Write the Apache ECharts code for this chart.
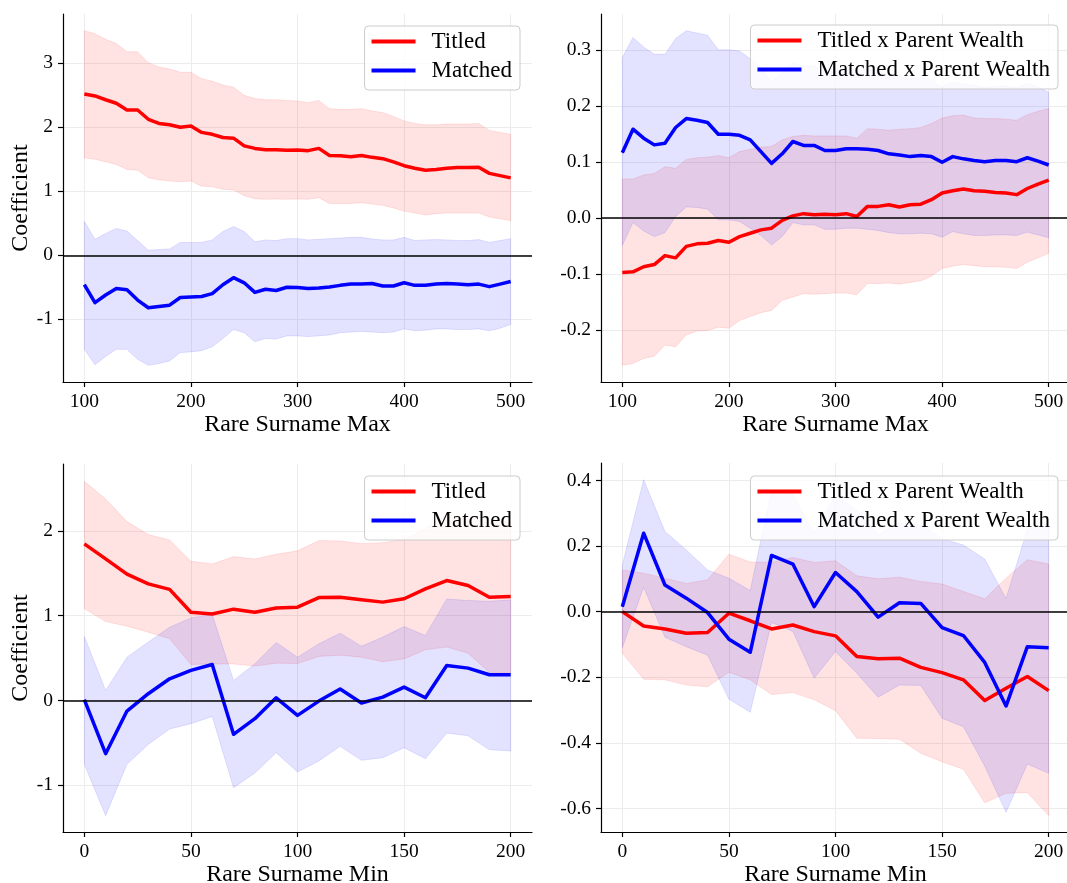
<!DOCTYPE html>
<html>
<head>
<meta charset="utf-8">
<script src="https://cdn.jsdelivr.net/npm/echarts@6/dist/echarts.min.js"></script>
<style>
  html, body { margin: 0; padding: 0; background: #ffffff; }
  #chart { width: 1067px; height: 883px; }
</style>
</head>
<body>
<div id="chart"></div>
<script>
// ---- x positions ----
const rareMax = [100,110,120,130,140,150,160,170,180,190,200,210,220,230,240,250,260,270,280,290,
                 300,310,320,330,340,350,360,370,380,390,400,410,420,430,440,450,460,470,480,490,500];
const rareMin = [0,10,20,30,40,50,60,70,80,90,100,110,120,130,140,150,160,170,180,190,200];

// ---- tick labels ----
const maxTicks = [100, 200, 300, 400, 500];
const minTicks = [0, 50, 100, 150, 200];
const coefTicksA = [-1, 0, 1, 2, 3];
const wealthTicksA = [-0.2, -0.1, 0.0, 0.1, 0.2, 0.3];
const coefTicksB = [-1, 0, 1, 2];
const wealthTicksB = [-0.6, -0.4, -0.2, 0.0, 0.2, 0.4];

// ---- series names ----
const mainNames = ['Titled', 'Matched'];
const wealthNames = ['Titled x Parent Wealth', 'Matched x Parent Wealth'];

// ---- Rare Surname Max: main coefficients ----
const titledMax   = [2.52,2.49,2.43,2.375,2.27,2.27,2.125,2.06,2.04,2.00,2.02,1.92,1.89,1.84,1.83,1.71,1.67,1.65,1.65,1.64,
                     1.645,1.635,1.67,1.56,1.555,1.54,1.56,1.53,1.51,1.46,1.40,1.36,1.33,1.34,1.36,1.37,1.37,1.375,1.28,1.245,1.21];
const titledMaxHi = [3.51,3.46,3.375,3.31,3.18,3.18,3.01,2.94,2.91,2.86,2.86,2.76,2.72,2.66,2.625,2.50,2.45,2.43,2.43,2.42,
                     2.41,2.385,2.42,2.29,2.28,2.28,2.29,2.255,2.23,2.17,2.10,2.06,2.04,2.04,2.05,2.05,2.05,2.06,1.95,1.92,1.89];
const titledMaxLo = [1.52,1.50,1.46,1.42,1.34,1.33,1.21,1.18,1.16,1.15,1.16,1.08,1.07,1.03,1.02,0.93,0.885,0.875,0.88,0.875,
                     0.88,0.875,0.90,0.81,0.81,0.81,0.82,0.80,0.78,0.74,0.69,0.66,0.63,0.65,0.66,0.66,0.66,0.66,0.60,0.57,0.54];
const matchedMax   = [-0.46,-0.74,-0.62,-0.52,-0.54,-0.70,-0.82,-0.80,-0.78,-0.66,-0.65,-0.645,-0.60,-0.46,-0.35,-0.43,-0.58,-0.53,-0.55,-0.50,
                      -0.505,-0.52,-0.51,-0.495,-0.47,-0.45,-0.45,-0.44,-0.48,-0.48,-0.43,-0.47,-0.47,-0.45,-0.44,-0.45,-0.46,-0.45,-0.49,-0.45,-0.41];
const matchedMaxHi = [0.53,0.25,0.34,0.42,0.38,0.23,0.08,0.09,0.10,0.20,0.20,0.20,0.24,0.37,0.45,0.37,0.21,0.24,0.23,0.26,
                      0.26,0.24,0.25,0.26,0.27,0.28,0.28,0.255,0.24,0.24,0.28,0.23,0.24,0.245,0.24,0.23,0.23,0.245,0.20,0.23,0.26];
const matchedMaxLo = [-1.47,-1.71,-1.58,-1.47,-1.47,-1.625,-1.72,-1.69,-1.65,-1.52,-1.51,-1.49,-1.43,-1.30,-1.16,-1.21,-1.35,-1.30,-1.31,-1.26,
                      -1.26,-1.27,-1.26,-1.245,-1.21,-1.20,-1.19,-1.20,-1.21,-1.20,-1.15,-1.18,-1.17,-1.15,-1.15,-1.16,-1.16,-1.15,-1.18,-1.14,-1.08];

// ---- Rare Surname Max: parent-wealth interactions ----
const titledWealthMax   = [-0.097,-0.096,-0.087,-0.083,-0.067,-0.071,-0.0505,-0.046,-0.045,-0.040,-0.043,-0.033,-0.027,-0.021,-0.018,-0.004,0.004,0.008,0.006,0.007,
                           0.006,0.008,0.003,0.021,0.021,0.024,0.020,0.024,0.025,0.033,0.045,0.049,0.052,0.049,0.048,0.046,0.045,0.042,0.053,0.061,0.068];
const titledWealthMaxHi = [0.070,0.070,0.077,0.080,0.092,0.089,0.105,0.108,0.109,0.112,0.108,0.119,0.123,0.127,0.128,0.140,0.146,0.148,0.147,0.147,
                           0.147,0.147,0.143,0.160,0.159,0.157,0.159,0.160,0.162,0.169,0.179,0.183,0.184,0.179,0.178,0.178,0.177,0.175,0.185,0.191,0.196];
const titledWealthMaxLo = [-0.263,-0.260,-0.251,-0.247,-0.227,-0.230,-0.209,-0.202,-0.201,-0.195,-0.197,-0.183,-0.176,-0.169,-0.165,-0.147,-0.141,-0.135,-0.136,-0.135,
                           -0.134,-0.134,-0.137,-0.117,-0.117,-0.116,-0.118,-0.115,-0.112,-0.104,-0.090,-0.086,-0.083,-0.085,-0.087,-0.087,-0.088,-0.090,-0.079,-0.071,-0.063];
const matchedWealthMax   = [0.117,0.159,0.143,0.131,0.134,0.162,0.178,0.175,0.171,0.150,0.150,0.148,0.140,0.119,0.098,0.115,0.137,0.130,0.130,0.121,
                            0.121,0.124,0.124,0.123,0.121,0.115,0.113,0.110,0.112,0.110,0.100,0.110,0.106,0.103,0.101,0.103,0.103,0.101,0.108,0.102,0.095];
const matchedWealthMaxHi = [0.287,0.323,0.306,0.293,0.293,0.321,0.335,0.331,0.327,0.301,0.301,0.299,0.285,0.269,0.244,0.261,0.277,0.272,0.272,0.262,
                            0.262,0.266,0.266,0.266,0.264,0.256,0.254,0.248,0.251,0.248,0.234,0.244,0.240,0.237,0.233,0.236,0.236,0.233,0.241,0.234,0.225];
const matchedWealthMaxLo = [-0.049,-0.008,-0.023,-0.033,-0.026,0.003,0.020,0.019,0.016,-0.003,-0.003,-0.006,-0.018,-0.031,-0.048,-0.033,-0.008,-0.012,-0.012,-0.020,
                            -0.020,-0.018,-0.018,-0.020,-0.022,-0.026,-0.028,-0.028,-0.027,-0.028,-0.034,-0.024,-0.028,-0.031,-0.031,-0.030,-0.030,-0.031,-0.025,-0.030,-0.035];

// ---- Rare Surname Min: main coefficients ----
const titledMin   = [1.847,1.67,1.49,1.375,1.31,1.04,1.02,1.077,1.04,1.09,1.10,1.214,1.218,1.187,1.16,1.20,1.316,1.415,1.356,1.218,1.226];
const titledMinHi = [2.585,2.377,2.11,1.957,1.894,1.642,1.611,1.697,1.67,1.725,1.765,1.886,1.882,1.85,1.862,1.90,2.03,2.20,2.154,2.10,2.12];
const titledMinLo = [1.084,0.93,0.876,0.805,0.727,0.424,0.43,0.43,0.405,0.44,0.435,0.519,0.534,0.51,0.456,0.49,0.597,0.629,0.558,0.33,0.33];
const matchedMin   = [0.008,-0.629,-0.126,0.079,0.255,0.354,0.424,-0.40,-0.216,0.031,-0.177,-0.008,0.134,-0.031,0.039,0.157,0.031,0.413,0.381,0.303,0.303];
const matchedMinHi = [0.754,0.118,0.51,0.688,0.864,0.974,1.014,0.236,0.432,0.684,0.51,0.668,0.794,0.64,0.747,0.872,0.766,1.198,1.179,1.17,1.187];
const matchedMinLo = [-0.754,-1.36,-0.754,-0.519,-0.338,-0.275,-0.189,-1.03,-0.857,-0.617,-0.845,-0.715,-0.542,-0.707,-0.676,-0.558,-0.688,-0.385,-0.417,-0.582,-0.597];

// ---- Rare Surname Min: parent-wealth interactions ----
const titledWealthMin   = [0.0,-0.044,-0.053,-0.066,-0.064,-0.005,-0.028,-0.053,-0.041,-0.061,-0.074,-0.137,-0.144,-0.142,-0.170,-0.186,-0.208,-0.271,-0.234,-0.198,-0.241];
const titledWealthMinHi = [0.127,0.117,0.102,0.086,0.097,0.175,0.151,0.150,0.165,0.150,0.155,0.109,0.100,0.105,0.092,0.084,0.061,0.039,0.102,0.158,0.145];
const titledWealthMinLo = [-0.127,-0.206,-0.208,-0.224,-0.229,-0.185,-0.208,-0.253,-0.247,-0.269,-0.302,-0.386,-0.387,-0.389,-0.432,-0.458,-0.481,-0.583,-0.554,-0.552,-0.622];
const matchedWealthMin   = [0.015,0.239,0.081,0.041,-0.003,-0.084,-0.124,0.171,0.145,0.015,0.119,0.061,-0.017,0.027,0.025,-0.049,-0.073,-0.155,-0.288,-0.107,-0.110];
const matchedWealthMinHi = [0.142,0.402,0.244,0.188,0.127,0.102,0.064,0.371,0.356,0.239,0.355,0.31,0.234,0.27,0.265,0.222,0.203,0.16,0.04,0.25,0.27];
const matchedWealthMinLo = [-0.110,0.074,-0.078,-0.107,-0.133,-0.267,-0.307,-0.033,-0.061,-0.203,-0.122,-0.188,-0.261,-0.224,-0.225,-0.325,-0.351,-0.471,-0.612,-0.465,-0.493];

// ---- styling ----
const FONT = '"Liberation Serif", "DejaVu Serif", serif';
const RED = '#ff0000';
const BLUE = '#0000ff';
const RED_FILL = 'rgba(255,0,0,0.11)';
const BLUE_FILL = 'rgba(0,0,255,0.11)';
const RED_EDGE = 'rgba(255,0,0,0.10)';
const BLUE_EDGE = 'rgba(0,0,255,0.10)';

const panels = [
  { box: {left: 63, top: 14, width: 469, height: 368}, xs: rareMax, xRange: [80, 520], xTicks: maxTicks,
    yRange: [-1.98, 3.77], yTicks: coefTicksA, dec: 0, xName: 'Rare Surname Max', yName: 'Coefficient',
    names: mainNames, legendRight: 547, legendTop: 26,
    red: [titledMax, titledMaxLo, titledMaxHi], blue: [matchedMax, matchedMaxLo, matchedMaxHi] },
  { box: {left: 601, top: 14, width: 469, height: 368}, xs: rareMax, xRange: [80, 520], xTicks: maxTicks,
    yRange: [-0.293, 0.365], yTicks: wealthTicksA, dec: 1, xName: 'Rare Surname Max', yName: '',
    names: wealthNames, legendRight: 9, legendTop: 25,
    red: [titledWealthMax, titledWealthMaxLo, titledWealthMaxHi], blue: [matchedWealthMax, matchedWealthMaxLo, matchedWealthMaxHi] },
  { box: {left: 63, top: 464, width: 469, height: 368}, xs: rareMin, xRange: [-10, 210], xTicks: minTicks,
    yRange: [-1.553, 2.79], yTicks: coefTicksB, dec: 0, xName: 'Rare Surname Min', yName: 'Coefficient',
    names: mainNames, legendRight: 547, legendTop: 476,
    red: [titledMin, titledMinLo, titledMinHi], blue: [matchedMin, matchedMinLo, matchedMinHi] },
  { box: {left: 601, top: 463, width: 469, height: 369}, xs: rareMin, xRange: [-10, 210], xTicks: minTicks,
    yRange: [-0.672, 0.453], yTicks: wealthTicksB, dec: 1, xName: 'Rare Surname Min', yName: '',
    names: wealthNames, legendRight: 9, legendTop: 476,
    red: [titledWealthMin, titledWealthMinLo, titledWealthMinHi], blue: [matchedWealthMin, matchedWealthMinLo, matchedWealthMinHi] }
];

const grids = [], xAxes = [], yAxes = [], series = [], legends = [];

// Confidence band drawn as one polygon: upper edge left-to-right, lower edge back.
function bandSeries(idx, xs, lo, hi, fill, edge) {
  return {
    type: 'custom', xAxisIndex: idx, yAxisIndex: idx, silent: true,
    data: xs.map((x, i) => [x, lo[i], hi[i]]),
    encode: { x: 0, y: [1, 2] },
    renderItem: function (params, api) {
      if (params.dataIndex !== 0) return null;
      const upper = xs.map((x, i) => api.coord([x, hi[i]]));
      const lower = xs.map((x, i) => api.coord([x, lo[i]])).reverse();
      return {
        type: 'polygon',
        shape: { points: upper.concat(lower) },
        style: { fill: fill, stroke: edge, lineWidth: 1 }
      };
    }
  };
}

function lineSeries(idx, name, xs, ys, color, withZero) {
  const s = {
    type: 'line', name: name, xAxisIndex: idx, yAxisIndex: idx,
    data: xs.map((x, i) => [x, ys[i]]),
    symbol: 'none', showSymbol: false, silent: true,
    lineStyle: { color: color, width: 3.5, join: 'round' },
    itemStyle: { color: color },
    emphasis: { disabled: true }
  };
  if (withZero) {
    s.markLine = {
      silent: true, symbol: ['none', 'none'], label: { show: false },
      lineStyle: { color: '#000000', width: 1.6, type: 'solid' },
      emphasis: { disabled: true },
      data: [{ yAxis: 0 }]
    };
  }
  return s;
}

panels.forEach((p, idx) => {
  grids.push(Object.assign({ outerBoundsMode: 'none', containLabel: false }, p.box));

  xAxes.push({
    type: 'value', gridIndex: idx, min: p.xRange[0], max: p.xRange[1],
    axisLine: { show: true, onZero: false, lineStyle: { color: '#000', width: 1.2 } },
    axisTick: { show: true, length: 5, customValues: p.xTicks, lineStyle: { color: '#000', width: 1.2 } },
    axisLabel: { customValues: p.xTicks, fontFamily: FONT, fontSize: 19.5, color: '#000', margin: 10 },
    splitLine: { show: true, lineStyle: { color: '#ececec', width: 1 } },
    name: p.xName, nameLocation: 'middle', nameGap: 31,
    nameTextStyle: { fontFamily: FONT, fontSize: 24, color: '#000' }
  });

  yAxes.push({
    type: 'value', gridIndex: idx, min: p.yRange[0], max: p.yRange[1],
    axisLine: { show: true, onZero: false, lineStyle: { color: '#000', width: 1.2 } },
    axisTick: { show: true, length: 5, customValues: p.yTicks, lineStyle: { color: '#000', width: 1.2 } },
    axisLabel: {
      customValues: p.yTicks, fontFamily: FONT, fontSize: 19.5, color: '#000', margin: 10,
      formatter: (v) => (p.dec ? Number(v).toFixed(p.dec) : String(Math.round(v)))
    },
    splitLine: { show: true, lineStyle: { color: '#ececec', width: 1 } },
    name: p.yName, nameLocation: 'middle', nameGap: 27,
    nameTextStyle: { fontFamily: FONT, fontSize: 24, color: '#000' }
  });

  series.push(bandSeries(idx, p.xs, p.red[1], p.red[2], RED_FILL, RED_EDGE));
  series.push(lineSeries(idx, p.names[0], p.xs, p.red[0], RED, false));
  series.push(bandSeries(idx, p.xs, p.blue[1], p.blue[2], BLUE_FILL, BLUE_EDGE));
  series.push(lineSeries(idx, p.names[1], p.xs, p.blue[0], BLUE, true));

  legends.push({
    orient: 'vertical', right: p.legendRight, top: p.legendTop,
    data: p.names, icon: 'rect', itemWidth: 44, itemHeight: 4, itemGap: 6,
    padding: [4, 8, 8, 7],
    backgroundColor: 'rgba(255,255,255,0.8)', borderColor: '#cccccc', borderWidth: 1, borderRadius: 4,
    selectedMode: false,
    textStyle: { fontFamily: FONT, fontSize: 23, color: '#000', lineHeight: 23, padding: [0, 0, 0, 11] }
  });
});

const chart = echarts.init(document.getElementById('chart'), null, { renderer: 'canvas' });
chart.setOption({
  animation: false,
  backgroundColor: '#ffffff',
  grid: grids,
  xAxis: xAxes,
  yAxis: yAxes,
  legend: legends,
  series: series
});
</script>
</body>
</html>
